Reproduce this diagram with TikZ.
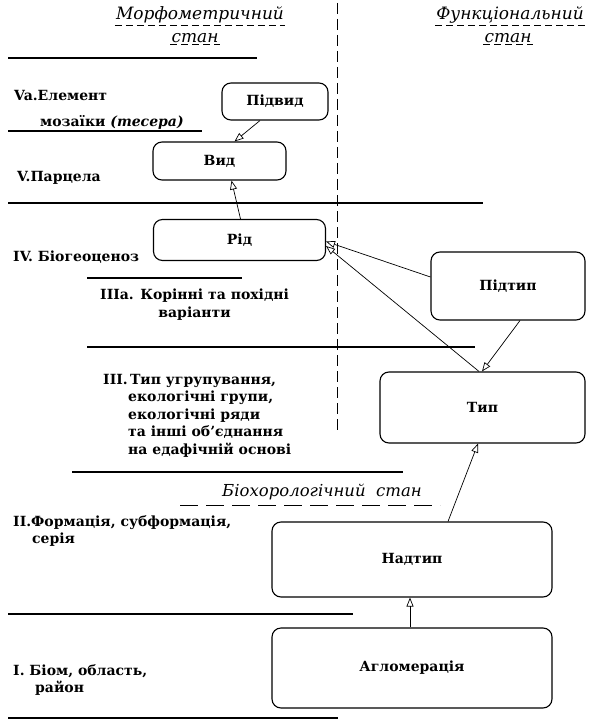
\documentclass[tikz,border=0pt]{standalone}
\usepackage{fontspec}
\setmainfont{DejaVu Serif}
\usetikzlibrary{arrows.meta}
\tikzset{
  box/.style={draw, line width=1.1pt, rounded corners=9pt, font=\bfseries\fontsize{14}{16}\selectfont, inner sep=0pt},
  lbl/.style={anchor=west, font=\bfseries\fontsize{14}{17.5}\selectfont, inner sep=0pt},
  rule/.style={line width=1.3pt},
  conn/.style={line width=0.7pt, -{Triangle[open, length=9pt, width=7pt]}},
  ttl/.style={font=\itshape\fontsize{17}{20}\selectfont, inner sep=1pt},
  uline/.style={line width=0.8pt, dash pattern=on 7pt off 4pt},
}
\begin{document}
\begin{tikzpicture}[x=1pt,y=-1pt]
\useasboundingbox[fill=white] (0,0) rectangle (597,722);
% titles
\node[ttl] (t1a) at (200,15) {Морфометричний};
\node[ttl] (t1b) at (195,38) {стан};
\node[ttl] (t2a) at (510,15) {Функціональний};
\node[ttl] (t2b) at (508,38) {стан};
\foreach \t in {t1a,t1b,t2a,t2b}{\draw[uline] ([yshift=-1pt]\t.south west) -- ([yshift=-1pt]\t.south east);}
% vertical dashed divider
\draw[line width=0.9pt, dash pattern=on 11pt off 5pt] (337,3) -- (337,430);
% rules
\draw[rule] (8,58) -- (257,58);
\draw[rule] (8,131) -- (202,131);
\draw[rule] (8,203) -- (483,203);
\draw[rule] (87,278) -- (242,278);
\draw[rule] (87,347) -- (475,347);
\draw[rule] (72,472) -- (403,472);
\draw[rule] (8,614) -- (353,614);
\draw[rule] (8,718) -- (338,718);
% left labels
\node[lbl] (la) at (14,95) {Va.Елемент};
\node[lbl] (lb) at (40,122) {мозаїки {\itshape(тесера)}};
\node[lbl] (lc) at (17,178) {V.Парцела};
\node[lbl] (ld) at (13,257) {IV. Біогеоценоз};
\node[lbl, anchor=north west, align=center] (le) at (100,289) {IIIa. Корінні та похідні\\варіанти};
\node[lbl, anchor=north west, align=left] (lf) at (103,374) {III.\,Тип угрупування,\\\hspace*{25pt}екологічні групи,\\\hspace*{25pt}екологічні ряди\\\hspace*{25pt}та інші об’єднання\\\hspace*{25pt}на едафічній основі};
\node[ttl, font=\itshape\fontsize{16.5}{19}\selectfont] (bio) at (322,492) {Біохорологічний\ \ стан};
\draw[uline, dash pattern=on 18pt off 8pt] (180,505) -- (440,505);
\node[lbl, anchor=north west, align=left] (lg) at (13,515) {II.Формація, субформація,\\\hspace*{19pt}серія};
\node[lbl, anchor=north west, align=left] (lh) at (13,664) {I. Біом, область,\\\hspace*{22pt}район};
% boxes
\node[box, minimum width=106pt, minimum height=37pt] (podvyd) at (275,101.5) {Підвид};
\node[box, minimum width=133pt, minimum height=38pt] (vyd) at (219.5,161) {Вид};
\node[box, minimum width=172pt, minimum height=41pt] (rid) at (239.5,240) {Рід};
\node[box, minimum width=154pt, minimum height=68pt] (pidtyp) at (508,286) {Підтип};
\node[box, minimum width=205pt, minimum height=71pt] (typ) at (482.5,407.5) {Тип};
\node[box, minimum width=280pt, minimum height=75pt] (nadtyp) at (412,559.5) {Надтип};
\node[box, minimum width=280pt, minimum height=80pt] (aglom) at (412,668) {Агломерація};
% connectors
\draw[conn] ([xshift=-15pt]podvyd.south) -- ([xshift=15pt]vyd.north);
\draw[conn] ([xshift=1pt]rid.north) -- ([xshift=12pt]vyd.south);
\draw[conn] ([yshift=9pt]pidtyp.west) -- ([yshift=-1.5pt]rid.east);
\draw[conn] ([xshift=-3.5pt]typ.north) -- ([yshift=-6pt]rid.east);
\draw[conn] ([xshift=12pt]pidtyp.south) -- ([xshift=-0.5pt]typ.north);
\draw[conn] ([xshift=36pt]nadtyp.north) -- ([xshift=-4.5pt]typ.south);
\draw[conn] ([xshift=-2pt]aglom.north) -- ([xshift=-2pt]nadtyp.south);
\end{tikzpicture}
\end{document}
